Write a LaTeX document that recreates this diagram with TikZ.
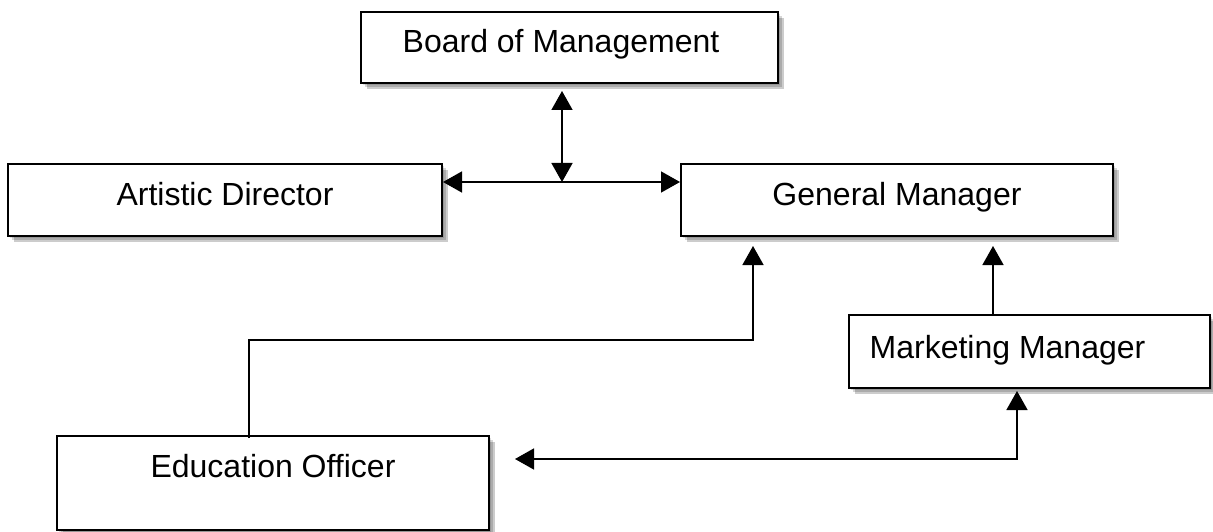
\documentclass[tikz,border=0pt]{standalone}
\usepackage{fontspec}
\setmainfont{Liberation Sans}
\usetikzlibrary{arrows.meta,shadows}
\begin{document}
\begin{tikzpicture}[x=1pt,y=-1pt,
  box/.style={draw=black, line width=2pt, fill=white, inner sep=0pt, anchor=base,
    font=\fontsize{32}{36}\selectfont,
    general shadow={fill=black, opacity=0.12, shadow xshift=2pt, shadow yshift=-2pt},
    general shadow={fill=black, opacity=0.16, shadow xshift=4pt, shadow yshift=-4pt},
    general shadow={fill=black, opacity=0.20, shadow xshift=6pt, shadow yshift=-6pt}},
  conn/.style={draw=black, line width=1.5pt},
  >={Triangle[length=19pt,width=21pt]}]
\useasboundingbox (0,0) rectangle (1213,532);

\node[box, minimum width=417pt, text height=41pt, text depth=30pt] (bm) at (569.5,53) {\kern-17pt Board of Management};
\node[box, minimum width=434pt, text height=41pt, text depth=31pt] (ad) at (225,205) {Artistic Director};
\node[box, minimum width=432pt, text height=41pt, text depth=31pt] (gm) at (897,205) {General Manager};
\node[box, minimum width=361pt, text height=43pt, text depth=30pt] (mm) at (1029.5,358) {\kern-44pt Marketing Manager};
\node[box, minimum width=432pt, text height=41pt, text depth=53pt] (eo) at (273,477) {Education Officer};

\coordinate (j) at (562,182);
\coordinate (xa) at (993,0);
\coordinate (k) at (753,340);
\coordinate (xe) at (249,0);
\coordinate (m) at (1017,459);
\coordinate (tip) at (515,459);

\draw[conn, <->, shorten <=7pt] (bm.south -| j) -- (j);
\draw[conn, <->] (ad.east |- j) -- (gm.west |- j);
\draw[conn, ->, shorten >=9pt] (xa |- mm.north) -- (xa |- gm.south);
\draw[conn, ->, shorten >=9pt] ([yshift=-3pt]xe |- eo.north) |- (k) -- (k |- gm.south);
\draw[conn, <->, shorten >=2pt] (tip) -| (m |- mm.south);
\end{tikzpicture}
\end{document}
